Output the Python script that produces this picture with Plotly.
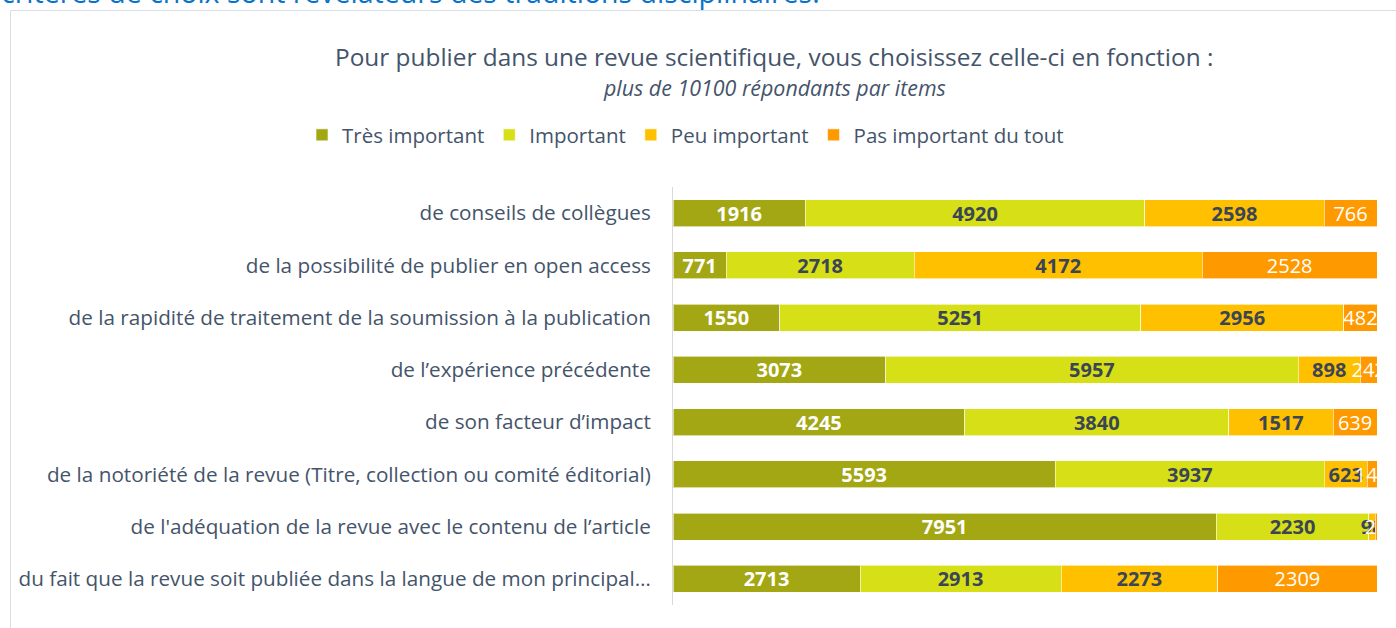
import plotly.graph_objects as go

# Survey items (top to bottom)
items = [
    "de conseils de collègues",
    "de la possibilité de publier en open access",
    "de la rapidité de traitement de la soumission à la publication",
    "de l’expérience précédente",
    "de son facteur d’impact",
    "de la notoriété de la revue (Titre, collection ou comité éditorial)",
    "de l'adéquation de la revue avec le contenu de l’article",
    "du fait que la revue soit publiée dans la langue de mon principal…",
]

# Number of respondents per answer
tres_important = [1916, 771, 1550, 3073, 4245, 5593, 7951, 2713]
important = [4920, 2718, 5251, 5957, 3840, 3937, 2230, 2913]
peu_important = [2598, 4172, 2956, 898, 1517, 623, 98, 2273]
pas_important = [766, 2528, 482, 242, 639, 146, 23, 2309]

series_names = ["Très important", "Important", "Peu important", "Pas important du tout"]
series_values = [tres_important, important, peu_important, pas_important]
colors = ["#A2A713", "#D7DF17", "#FFC000", "#FF9900"]
label_styles = [
    dict(color="#FFFFFF", weight="bold"),
    dict(color="#3A4556", weight="bold"),
    dict(color="#3A4556", weight="bold"),
    dict(color="#FFFFFF", weight="normal"),
]

FONT = "Open Sans"
TEXT_COLOR = "#44546A"

fig = go.Figure()
for name, vals, col, lab in zip(series_names, series_values, colors, label_styles):
    fig.add_trace(go.Bar(
        name=name,
        y=items,
        x=vals,
        orientation="h",
        marker=dict(color=col, line=dict(color="rgba(255,255,255,0.6)", width=1)),
        text=[str(v) for v in vals],
        textposition="inside",
        insidetextanchor="middle",
        textangle=0,
        textfont=dict(family=FONT, size=20, color=lab["color"], weight=lab["weight"]),
        hoverinfo="x+y+name",
    ))

W, H = 1396, 628
ML, MR, MT, MB = 673, 19, 187, 23
PW, PH = W - ML - MR, H - MT - MB


def px_to_paper_x(px):
    return (px - ML) / PW


def px_to_paper_y(py):
    return 1 + (MT - py) / PH


fig.update_layout(
    width=W,
    height=H,
    margin=dict(l=ML, r=MR, t=MT, b=MB, pad=0, autoexpand=False),
    paper_bgcolor="white",
    plot_bgcolor="white",
    barmode="stack",
    barnorm="percent",
    bargap=0.48,
    uniformtext=dict(mode="show", minsize=20),
    font=dict(family=FONT, color=TEXT_COLOR),
    xaxis=dict(
        range=[0, 100],
        visible=False,
        fixedrange=True,
    ),
    yaxis=dict(
        autorange="reversed",
        automargin=False,
        showline=True,
        linecolor="#D9D9D9",
        linewidth=1,
        showgrid=False,
        ticks="",
        ticklabelstandoff=17,
        tickfont=dict(family=FONT, size=20.7, color=TEXT_COLOR),
    ),
    legend=dict(
        orientation="h",
        x=px_to_paper_x(302),
        xanchor="left",
        y=px_to_paper_y(135),
        yanchor="middle",
        font=dict(family=FONT, size=20.5, color=TEXT_COLOR),
        traceorder="normal",
        itemclick=False,
    ),
    showlegend=True,
)

# Chart title and subtitle
fig.add_annotation(
    text="Pour publier dans une revue scientifique, vous choisissez celle-ci en fonction :",
    xref="paper", yref="paper",
    x=px_to_paper_x(774), y=px_to_paper_y(56),
    xanchor="center", yanchor="middle",
    showarrow=False,
    font=dict(family=FONT, size=24.4, color=TEXT_COLOR),
)
fig.add_annotation(
    text="<i>plus de 10100 répondants par items</i>",
    xref="paper", yref="paper",
    x=px_to_paper_x(774), y=px_to_paper_y(88),
    xanchor="center", yanchor="middle",
    showarrow=False,
    font=dict(family=FONT, size=21.4, color=TEXT_COLOR),
)

# Preceding paragraph line of the page
fig.add_annotation(
    text="critères de choix sont révélateurs des traditions disciplinaires.",
    xref="paper", yref="paper",
    x=px_to_paper_x(-1), y=px_to_paper_y(13),
    xanchor="left", yanchor="bottom",
    showarrow=False,
    font=dict(family=FONT, size=28.5, color="#0A73C9"),
)

# Chart frame
fig.add_shape(
    type="rect",
    xref="paper", yref="paper",
    x0=px_to_paper_x(10.5), x1=px_to_paper_x(W + 20),
    y0=px_to_paper_y(H + 20), y1=px_to_paper_y(10.5),
    line=dict(color="#D9DEE5", width=1),
    fillcolor="rgba(0,0,0,0)",
    layer="below",
)

fig.write_html("out.html", config=dict(displayModeBar=False))
